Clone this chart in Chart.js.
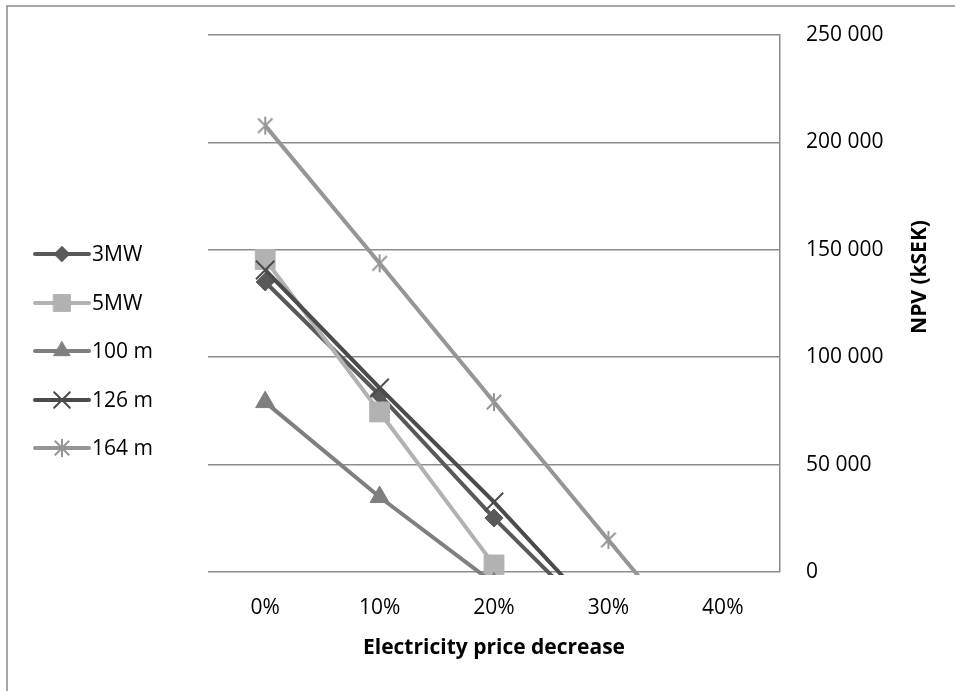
<!DOCTYPE html>
<html>
<head>
<meta charset="utf-8">
<script src="https://cdn.jsdelivr.net/npm/chart.js@4.4.1/dist/chart.umd.min.js"></script>
<style>
  html, body { margin: 0; padding: 0; background: #fff; }
  #wrap { width: 955px; height: 691px; position: relative; }
</style>
</head>
<body>
<div id="wrap"><canvas id="npv"></canvas></div>
<script>
const labels = ['0%', '10%', '20%', '30%', '40%'];
const seriesNames = ['3MW', '5MW', '100 m', '126 m', '164 m'];
const npv3MW = [135000, 82400, 25100, -28000, null];
const npv5MW = [145500, 74500, 3300, null, null];
const npv100m = [79100, 34900, -5300, null, null];
const npv126m = [140600, 85700, 32600, -25000, null];
const npv164m = [207800, 143700, 79100, 14900, -49000];
const yTicks = [0, 50000, 100000, 150000, 200000, 250000];

const FONT = "'Open Sans', sans-serif";

// asterisk marker for 164 m (x plus vertical bar)
function asterisk(size, color) {
  const c = document.createElement('canvas');
  c.width = size; c.height = size;
  const g = c.getContext('2d');
  const m = size / 2, r = size / 2 - 2;
  g.strokeStyle = color;
  g.lineWidth = 2;
  g.beginPath();
  g.moveTo(m - r * 0.8, m - r * 0.8); g.lineTo(m + r * 0.8, m + r * 0.8);
  g.moveTo(m + r * 0.8, m - r * 0.8); g.lineTo(m - r * 0.8, m + r * 0.8);
  g.moveTo(m, m - r); g.lineTo(m, m + r);
  g.stroke();
  return c;
}

function fmt(v) {
  return String(v).replace(/\B(?=(\d{3})+(?!\d))/g, ' ');
}

const styles = [
  { color: '#595959', point: 'rectRot', radius: 9, order: 5 },
  { color: '#b2b2b2', point: 'rect', radius: 14, order: 4 },
  { color: '#7f7f7f', point: 'triangle', radius: 11, order: 3 },
  { color: '#4b4b4b', point: 'crossRot', radius: 13, order: 2 },
  { color: '#969696', point: asterisk(22, '#969696'), radius: 11, order: 1 },
];
const values = [npv3MW, npv5MW, npv100m, npv126m, npv164m];

const datasets = values.map((d, i) => ({
  label: seriesNames[i],
  data: d,
  borderColor: styles[i].color,
  backgroundColor: styles[i].color,
  borderWidth: 4,
  pointStyle: styles[i].point,
  pointRadius: styles[i].radius,
  pointHoverRadius: styles[i].radius,
  pointBorderWidth: styles[i].point === 'crossRot' ? 2 : 1,
  pointBorderColor: styles[i].color,
  pointBackgroundColor: styles[i].color,
  tension: 0,
  order: styles[i].order,
  clip: { left: 0, top: 0, right: 0, bottom: 3 },
}));

const decor = {
  id: 'decor',
  afterDraw(chart) {
    const ctx = chart.ctx;
    ctx.save();
    // frame
    ctx.strokeStyle = '#8a8a8a';
    ctx.lineWidth = 1.5;
    ctx.beginPath();
    ctx.moveTo(7, 691); ctx.lineTo(7, 6); ctx.lineTo(955, 6);
    ctx.stroke();

    // legend with line + marker
    const rowY = [254, 303, 351, 400, 448];
    ctx.font = '21px ' + FONT;
    ctx.textBaseline = 'middle';
    ctx.textAlign = 'left';
    datasets.forEach((ds, i) => {
      const y = rowY[i];
      ctx.strokeStyle = ds.borderColor;
      ctx.lineWidth = 4;
      ctx.lineCap = 'round';
      ctx.beginPath();
      ctx.moveTo(35, y); ctx.lineTo(89, y);
      ctx.stroke();
      ctx.fillStyle = ds.borderColor;
      ctx.strokeStyle = ds.borderColor;
      ctx.lineWidth = ds.pointBorderWidth;
      Chart.helpers.drawPoint(ctx, {
        pointStyle: ds.pointStyle,
        radius: ds.pointRadius * 0.85,
        rotation: 0,
        borderWidth: ds.pointBorderWidth,
      }, 62, y);
      ctx.fillStyle = '#000';
      ctx.fillText(ds.label, 92, y + 1);
    });

    // right axis title, reads bottom to top
    ctx.translate(920, 277);
    ctx.rotate(-Math.PI / 2);
    ctx.font = 'bold 21px ' + FONT;
    ctx.textAlign = 'center';
    ctx.textBaseline = 'middle';
    ctx.fillStyle = '#000';
    ctx.fillText('NPV (kSEK)', 0, 0);
    ctx.restore();
  }
};

new Chart(document.getElementById('npv'), {
  type: 'line',
  data: { labels: labels, datasets: datasets },
  options: {
    responsive: true,
    maintainAspectRatio: false,
    animation: false,
    layout: { padding: { left: 208, top: 35, right: 0, bottom: 0 } },
    plugins: {
      legend: { display: false },
      tooltip: { enabled: false },
    },
    scales: {
      x: {
        offset: true,
        grid: { display: false, drawTicks: false },
        border: { display: false },
        ticks: { padding: 23, color: '#000', font: { family: FONT, size: 21 } },
        title: {
          display: true,
          text: 'Electricity price decrease',
          color: '#000',
          font: { family: FONT, size: 21, weight: 'bold' },
          padding: { top: 0, bottom: 30 },
        },
        afterFit: s => { s.height = 119; s.paddingLeft = 0; s.paddingRight = 0; },
      },
      y: {
        position: 'right',
        min: 0,
        max: 250000,
        afterBuildTicks: s => { s.ticks = yTicks.map(v => ({ value: v })); },
        grid: { color: '#8c8c8c', lineWidth: 1.5, drawTicks: false },
        border: { display: true, color: '#8c8c8c', width: 1.5 },
        ticks: {
          padding: 26,
          color: '#000',
          font: { family: FONT, size: 21 },
          callback: v => fmt(v),
        },
        afterFit: s => { s.width = 175; s.paddingTop = 0; s.paddingBottom = 0; },
      },
    },
  },
  plugins: [decor],
});
</script>
</body>
</html>
